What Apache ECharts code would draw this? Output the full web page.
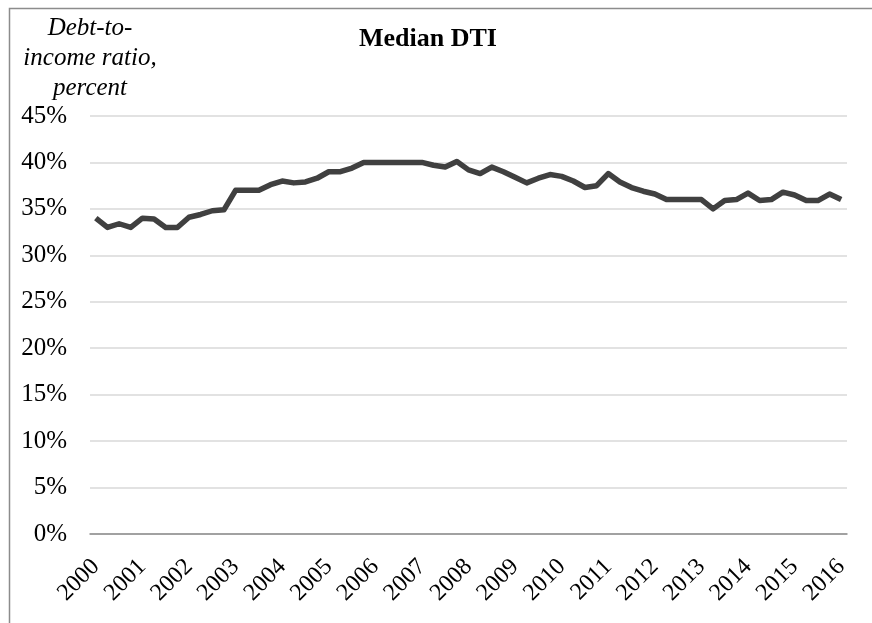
<!DOCTYPE html>
<html>
<head>
<meta charset="utf-8">
<script src="https://cdn.jsdelivr.net/npm/echarts@6/dist/echarts.min.js"></script>
<style>
  html, body { margin: 0; padding: 0; background: #fff; }
  #chart { width: 872px; height: 623px; }
</style>
</head>
<body>
<div id="chart"></div>
<script>
// quarterly median debt-to-income ratio, 2000Q1 .. 2016Q1
var years = ['2000','2001','2002','2003','2004','2005','2006','2007','2008',
             '2009','2010','2011','2012','2013','2014','2015','2016'];
var dti = [
  34.0, 33.0, 33.4, 33.0, 34.0, 33.9, 33.0, 33.0,   // 2000-2001
  34.1, 34.4, 34.8, 34.9, 37.0, 37.0, 37.0, 37.6,   // 2002-2003
  38.0, 37.8, 37.9, 38.3, 39.0, 39.0, 39.4, 40.0,   // 2004-2005
  40.0, 40.0, 40.0, 40.0, 40.0, 39.7, 39.5, 40.1,   // 2006-2007
  39.2, 38.8, 39.5, 39.0, 38.4, 37.8, 38.3, 38.7,   // 2008-2009
  38.5, 38.0, 37.3, 37.5, 38.8, 37.9, 37.3, 36.9,   // 2010-2011
  36.6, 36.0, 36.0, 36.0, 36.0, 35.0, 35.9, 36.0,   // 2012-2013
  36.7, 35.9, 36.0, 36.8, 36.5, 35.9, 35.9, 36.6,   // 2014-2015
  36.0                                               // 2016
];

// one category per quarter, only the first quarter carries the year label
var categories = [];
years.forEach(function (y) {
  for (var q = 1; q <= 4; q++) {
    if (categories.length < dti.length) categories.push(y + 'Q' + q);
  }
});

var font = 'Liberation Serif';
var chart = echarts.init(document.getElementById('chart'));

chart.setOption({
  animation: false,
  backgroundColor: '#fff',
  title: {
    text: 'Median DTI',
    left: 354,
    top: 21,
    textStyle: { fontFamily: font, fontSize: 26, fontWeight: 'bold', color: '#000' }
  },
  graphic: [{
    type: 'rect',
    shape: { x: 9.5, y: 8.5, width: 1000, height: 1000 },
    style: { fill: 'none', stroke: '#8c8c8c', lineWidth: 1.5 },
    silent: true
  }],
  grid: { left: 90, right: 25, top: 116, bottom: 89 },
  xAxis: {
    type: 'category',
    data: categories,
    boundaryGap: true,
    axisLine: { lineStyle: { color: '#8c8c8c', width: 1.5 } },
    axisTick: { interval: 0, length: 5, lineStyle: { color: '#8c8c8c', width: 1.5 } },
    axisLabel: {
      interval: 3,
      rotate: 45,
      margin: 29,
      fontFamily: font,
      fontSize: 24,
      color: '#000',
      formatter: function (v) { return v.slice(0, 4); }
    },
    splitLine: { show: false }
  },
  yAxis: {
    type: 'value',
    min: 0,
    max: 45,
    interval: 5,
    name: 'Debt-to-\nincome ratio,\npercent',
    nameLocation: 'end',
    nameGap: 10,
    nameTextStyle: {
      fontFamily: font, fontSize: 25, fontStyle: 'italic', color: '#000',
      align: 'center', verticalAlign: 'bottom', lineHeight: 30
    },
    axisLine: { show: false },
    axisTick: { show: false },
    axisLabel: {
      margin: 23,
      fontFamily: font,
      fontSize: 25,
      color: '#000',
      formatter: '{value}%'
    },
    splitLine: { lineStyle: { color: '#d9d9d9', width: 1.5 } }
  },
  series: [{
    type: 'line',
    data: dti,
    symbol: 'none',
    lineStyle: { color: '#404040', width: 5.5, join: 'round' }
  }]
});
</script>
</body>
</html>
